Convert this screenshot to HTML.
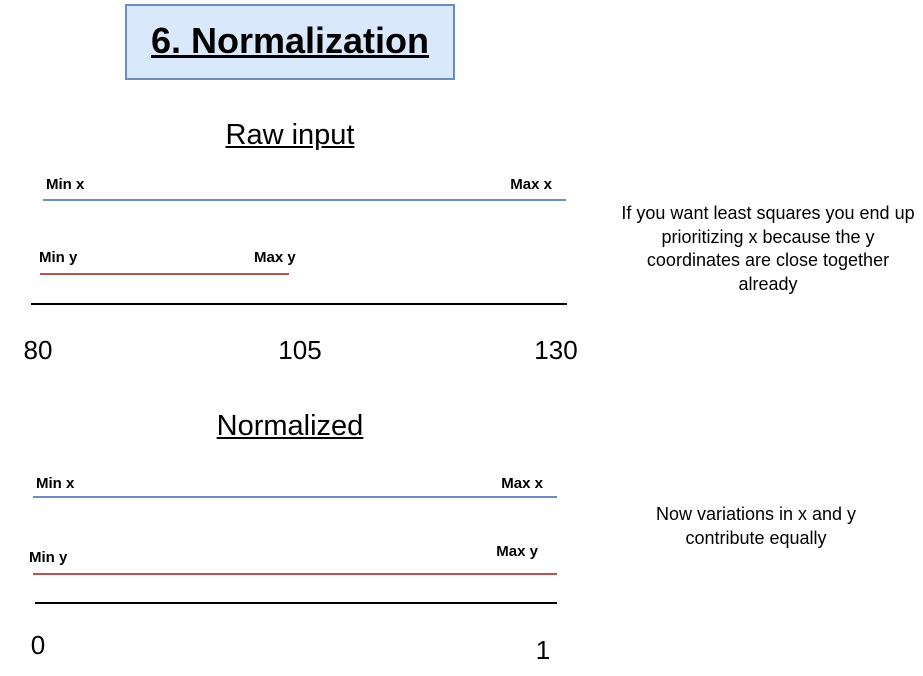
<!DOCTYPE html>
<html>
<head>
<meta charset="utf-8">
<style>
  body{margin:0;width:923px;height:676px;background:#fff;overflow:hidden;font-family:"Liberation Sans",Arial,sans-serif;}
  svg{position:absolute;left:0;top:0;}
  .t{position:absolute;white-space:nowrap;}
</style>
</head>
<body>
<div style="position:absolute;left:125px;top:4px;width:326px;height:72px;background:#dae8fc;border:2px solid #6c8ebf;"></div>
<div class="t" style="left:125px;width:330px;top:20px;text-align:center;font-size:36px;font-weight:bold;text-decoration:underline;">6. Normalization</div>
<div class="t" style="left:190px;width:200px;top:119px;text-align:center;font-size:29px;text-decoration:underline;">Raw input</div>
<div class="t" style="left:190px;width:200px;top:410px;text-align:center;font-size:29px;text-decoration:underline;">Normalized</div>
<div class="t" style="left:616px;width:304px;top:202px;text-align:center;font-size:18px;line-height:23.5px;white-space:normal;">If you want least squares you end up prioritizing x because the y coordinates are close together already</div>
<div class="t" style="left:636px;width:240px;top:502px;text-align:center;font-size:18px;line-height:24px;white-space:normal;">Now variations in x and y contribute equally</div>
<svg id="chart" width="923" height="676"></svg>
<script>
const rawTicks=[80,105,130];
const rawX=[80,130];
const rawY=[80,105];
const normTicks=[0,1];
const normX=[0,1];
const normY=[0,1];
const NS="http://www.w3.org/2000/svg";
const svg=document.getElementById('chart');
function line(x1,x2,y,c,w,name){
  const l=document.createElementNS(NS,'line');
  l.setAttribute('x1',x1);l.setAttribute('x2',x2);l.setAttribute('y1',y);l.setAttribute('y2',y);
  l.setAttribute('stroke',c);l.setAttribute('stroke-width',w);
  
  
  svg.appendChild(l);
}
function text(x,y,s,size,bold,anchor,name){
  const t=document.createElementNS(NS,'text');
  t.setAttribute('x',x);t.setAttribute('y',y);t.setAttribute('font-size',size);
  t.setAttribute('font-family','Liberation Sans, Arial, sans-serif');
  if(bold)t.setAttribute('font-weight','bold');
  t.setAttribute('text-anchor',anchor);
  t.textContent=s;
  
  
  svg.appendChild(t);
}
// raw panel
const rMin=rawTicks[0],rMax=rawTicks[rawTicks.length-1];
const rx=v=>40+(v-rMin)/(rMax-rMin)*526;
line(rx(rawX[0])+3,rx(rawX[1]),200,'#6c8ebf',2,'raw-x-range');
text(rx(rawX[0])+6,189,'Min x',15,true,'start','raw-min-x-label');
text(rx(rawX[1])-14,189,'Max x',15,true,'end','raw-max-x-label');
line(rx(rawY[0]),rx(rawY[1])-14,274,'#b85450',2,'raw-y-range');
text(rx(rawY[0])-1,262,'Min y',15,true,'start','raw-min-y-label');
text(rx(rawY[1])-49,262,'Max y',15,true,'start','raw-max-y-label');
line(31,567,304,'#000',2,'raw-axis');
rawTicks.forEach((v,i)=>{
  const x=i===0?38:(i===rawTicks.length-1?556:rx(v)-3);
  text(x,359,String(v),26,false,'middle','raw-tick-'+v);
});
// normalized panel
const nx=v=>33+(v-normTicks[0])/(normTicks[1]-normTicks[0])*524;
line(nx(normX[0]),nx(normX[1]),497,'#6c8ebf',2,'norm-x-range');
text(nx(normX[0])+3,488,'Min x',15,true,'start','norm-min-x-label');
text(nx(normX[1])-14,488,'Max x',15,true,'end','norm-max-x-label');
line(nx(normY[0]),nx(normY[1]),574,'#b85450',2,'norm-y-range');
text(nx(normY[0])-4,562,'Min y',15,true,'start','norm-min-y-label');
text(nx(normY[1])-19,556,'Max y',15,true,'end','norm-max-y-label');
line(35,557,603,'#000',2,'norm-axis');
text(38,654,String(normTicks[0]),26,false,'middle','norm-tick-0');
text(543,659,String(normTicks[1]),26,false,'middle','norm-tick-1');
</script>
</body>
</html>
